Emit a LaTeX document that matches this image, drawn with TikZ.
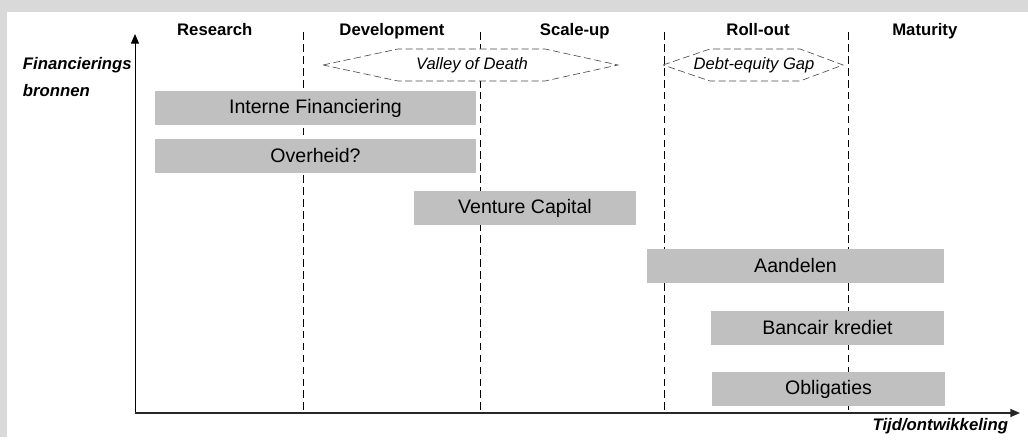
\documentclass[tikz,border=0pt]{standalone}
\usepackage{fontspec}
\setmainfont{Liberation Sans}
\usepackage{tikz}
\usetikzlibrary{arrows.meta}

\definecolor{framegray}{HTML}{D9D9D9}
\definecolor{barfill}{HTML}{C0C0C0}

\begin{document}
\begin{tikzpicture}[
  fund/.style={fill=barfill, inner sep=0pt, minimum width=#1, minimum height=0.85cm,
    font=\fontsize{13.9}{16}\selectfont},
  phase/.style={anchor=base, font=\fontsize{11.9}{14}\selectfont\bfseries},
  axislabel/.style={font=\fontsize{11.9}{14}\selectfont\bfseries\itshape},
  gaplabel/.style={font=\fontsize{11.8}{14}\selectfont\itshape},
  gapline/.style={draw=black!70, fill=white, dash pattern=on 5pt off 2.5pt, line width=0.45pt},
  phaseline/.style={dash pattern=on 5.5pt off 3pt, line width=0.5pt},
  >={Triangle[length=2.4mm,width=2mm]}
]
% Frame
\fill[framegray] (0,0) rectangle (25.7,10.925);
\fill[white] (0.175,0) rectangle (25.7,10.625);

% Axes
\coordinate (o) at (3.375,0.6);
\coordinate (ytop) at (3.375,10.075);
\coordinate (xend) at (25.5,0.6);
\draw[->, line width=0.7pt] (o) -- (ytop);
\draw[->, line width=0.9pt, black!85] (o) -- (xend);
\node[axislabel, anchor=base west] (fin) at (0.45,9.175) {Financierings};
\node[axislabel, anchor=base west] (bron) at (0.45,8.5) {bronnen};
\node[axislabel, anchor=base east] (tijd) at (25.325,0.15) {Tijd/ontwikkeling};

% Phase boundaries
\coordinate (p1) at (7.575,10.125);
\coordinate (p2) at (12.0,10.125);
\coordinate (p3) at (16.6,10.125);
\coordinate (p4) at (21.2,10.125);
\draw[phaseline] (p1) -- (p1 |- o);
\draw[phaseline] (p2) -- (p2 |- o);
\draw[phaseline] (p3) -- (p3 |- o);
\draw[phaseline] (p4) -- (p4 |- o);

% Phase names
\node[phase] (research) at (5.37,10.025) {Research};
\node[phase] (dev) at (9.8,10.025) {Development};
\node[phase] (scale) at (14.37,10.025) {Scale-up};
\node[phase] (roll) at (18.95,10.025) {Roll-out};
\node[phase] (mat) at (23.12,10.025) {Maturity};

% Gaps
\draw[gapline] (8.075,9.3) -- (9.95,9.7) -- (13.625,9.7) -- (15.45,9.3)
  -- (13.625,8.9) -- (9.95,8.9) -- cycle;
\node[gaplabel] (valley) at (11.8,9.29) {Valley of Death};
\draw[gapline] (16.575,9.3) -- (17.75,9.7) -- (20.0,9.7) -- (21.075,9.3)
  -- (20.0,8.9) -- (17.75,8.9) -- cycle;
\node[gaplabel] (debt) at (18.85,9.29) {Debt-equity Gap};

% Funding sources
\node[fund=8.025cm] (intern) at (7.8875,8.225) {Interne Financiering};
\node[fund=8.025cm] (overheid) at (7.8875,7.025) {Overheid?};
\node[fund=5.55cm] (vc) at (13.125,5.725) {Venture Capital};
\node[fund=7.425cm] (aandelen) at (19.8875,4.275) {Aandelen};
\node[fund=5.825cm] (bank) at (20.6875,2.725) {Bancair krediet};
\node[fund=5.825cm] (oblig) at (20.7125,1.2) {Obligaties};

\end{tikzpicture}
\end{document}
